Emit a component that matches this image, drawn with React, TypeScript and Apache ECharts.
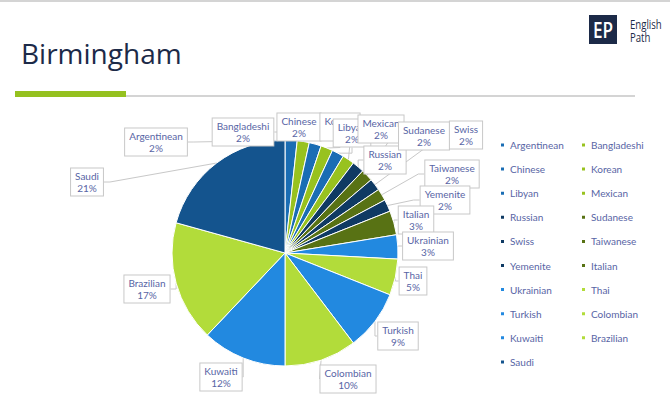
import React, { useEffect, useRef } from "react";
import * as echarts from "echarts";

const categories = [
  "Argentinean", "Bangladeshi", "Chinese", "Korean", "Libyan", "Mexican",
  "Russian", "Sudanese", "Swiss", "Taiwanese", "Yemenite", "Italian",
  "Ukrainian", "Thai", "Turkish", "Colombian", "Kuwaiti", "Brazilian", "Saudi",
];
const students = [1, 1, 1, 1, 1, 1, 1, 1, 1, 1, 1, 2, 2, 3, 5, 6, 7, 10, 12];
const legendColumn1 = ["Argentinean", "Chinese", "Libyan", "Russian", "Swiss", "Yemenite", "Ukrainian", "Turkish", "Kuwaiti", "Saudi"];
const legendColumn2 = ["Bangladeshi", "Korean", "Mexican", "Sudanese", "Taiwanese", "Italian", "Thai", "Colombian", "Brazilian"];

const BLUE = "#1a6db4";
const GREEN = "#98c21f";
const NAVY = "#0f3a63";
const OLIVE = "#587214";
const BRIGHT = "#2289e0";
const LIME = "#b2dc3a";
const SAUDI = "#14548e";
const sliceColors = [
  BLUE, GREEN, BLUE, GREEN, BLUE, GREEN, NAVY, OLIVE, NAVY, OLIVE, NAVY, OLIVE,
  BRIGHT, LIME, BRIGHT, LIME, BRIGHT, LIME, SAUDI,
];
// label box centres (layout only)
const labelCentres = [
  [156, 142], [243, 132], [299, 127], [340, 127], [352, 133], [381, 129],
  [385, 160], [424, 136], [466, 135], [452, 174], [445, 200], [416, 220],
  [428, 246], [413, 281], [398, 336], [348, 379], [221, 377], [147, 289], [87, 182],
];

const TEXT = "#5865a5";
const FONT = "Lato, 'Open Sans', sans-serif";

export default function App() {
  const ref = useRef<HTMLDivElement>(null);
  useEffect(() => {
    if (!ref.current) return;
    const chart = echarts.init(ref.current, undefined, { renderer: "svg" });
    const total = students.reduce((a, b) => a + b, 0);
    const legendBase = {
      orient: "vertical",
      top: 139,
      padding: 0,
      itemWidth: 5,
      itemHeight: 5,
      itemGap: 12.1,
      icon: "rect",
      selectedMode: false,
      textStyle: { color: TEXT, fontSize: 10, fontFamily: FONT, lineHeight: 12 },
    };
    chart.setOption({
      animation: false,
      backgroundColor: "#ffffff",
      legend: [
        { ...legendBase, left: 499, data: legendColumn1 },
        { ...legendBase, left: 580, data: legendColumn2 },
      ],
      graphic: [
        { type: "rect", shape: { x: 0, y: 0, width: 670, height: 2 }, style: { fill: "#d4d4d4" } },
        {
          type: "text", left: 21, top: 39,
          style: { text: "Birmingham", fontSize: 28, fontFamily: "'Open Sans', sans-serif", fill: "#1c2a48" },
        },
        { type: "rect", shape: { x: 126, y: 95, width: 509, height: 2 }, style: { fill: "#d4d4d4" } },
        { type: "rect", shape: { x: 15, y: 91, width: 111, height: 6 }, style: { fill: "#95c11f" } },
        { type: "rect", shape: { x: 589, y: 15, width: 28, height: 29 }, style: { fill: "#1c2a48" } },
        {
          type: "text", x: 603, y: 30, scaleX: 0.78,
          style: { text: "EP", fontSize: 22, fontWeight: 600, fontFamily: "'Open Sans', sans-serif", fill: "#ffffff", align: "center", verticalAlign: "middle" },
        },
        {
          type: "text", x: 630, y: 18, scaleX: 0.8,
          style: { text: "English\nPath", fontSize: 12, lineHeight: 13, fontFamily: "'Open Sans', sans-serif", fill: "#1c2a48" },
        },
      ],
      series: [
        {
          type: "pie",
          center: [285, 253],
          radius: 113,
          startAngle: 90,
          clockwise: true,
          avoidLabelOverlap: false,
          itemStyle: { borderColor: "#ffffff", borderWidth: 1 },
          data: categories.map((name, i) => ({
            name,
            value: students[i],
            itemStyle: { color: sliceColors[i] },
          })),
          label: {
            show: true,
            position: "outside",
            formatter: (p: any) => `${p.name}\n${Math.round((p.value / total) * 100)}%`,
            color: TEXT,
            fontSize: 10,
            fontFamily: FONT,
            lineHeight: 12,
            align: "center",
            backgroundColor: "#ffffff",
            borderColor: "#c8c8c8",
            borderWidth: 1,
            padding: [2, 4, 1, 4],
          },
          labelLine: { show: true, length: 6, length2: 6, lineStyle: { color: "#c8c8c8", width: 1 } },
          labelLayout: (params: any) => {
            const c = labelCentres[params.dataIndex];
            return { x: c[0], y: c[1], align: "center", verticalAlign: "middle" };
          },
        },
      ],
    });
    return () => chart.dispose();
  }, []);
  return <div ref={ref} style={{ position: "fixed", left: 0, top: 0, width: 670, height: 399 }} />;
}
